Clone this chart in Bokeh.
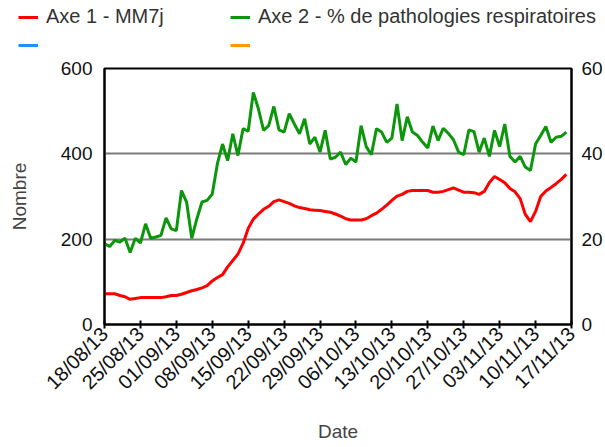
import math
import pandas as pd
from bokeh.plotting import figure
from bokeh.layouts import column
from bokeh.models import (Range1d, LinearAxis, FixedTicker, DatetimeTickFormatter,
                          Legend, LegendItem, ColumnDataSource)
from bokeh.embed import file_html
from bokeh.resources import INLINE

# ---------------- data ----------------
start_date = "2013-08-18"
mm7j = [72, 72, 72, 68, 65, 59, 61, 63, 63, 63,
        63, 63, 65, 68, 68, 71, 75, 79, 82, 86,
        91, 102, 110, 117, 135, 150, 165, 190, 225, 247,
        259, 270, 277, 288, 292, 288, 284, 278, 274, 272,
        269, 268, 267, 265, 263, 259, 254, 248, 245, 245,
        245, 248, 255, 261, 270, 280, 291, 301, 305, 312,
        314, 314, 314, 314, 310, 310, 312, 316, 320, 315,
        310, 310, 309, 305, 312, 333, 347, 340, 332, 319,
        311, 295, 258, 241, 265, 300, 313, 321, 330, 340,
        352]
pct_resp = [18.9, 18.3, 19.7, 19.3, 20.2, 16.9, 20.2, 19.1, 23.6, 20.2,
            20.5, 20.9, 25.0, 22.4, 22.0, 31.4, 28.7, 20.2, 24.8, 28.7,
            29.1, 30.6, 37.7, 42.3, 38.4, 44.7, 39.6, 45.9, 45.3, 54.4,
            50.5, 45.5, 46.6, 51.1, 45.6, 45.1, 49.4, 47.0, 44.7, 48.2,
            42.3, 43.9, 40.4, 45.5, 38.8, 39.2, 40.4, 37.5, 39.0, 38.1,
            46.6, 41.7, 39.8, 45.9, 45.1, 42.7, 43.7, 51.7, 43.1, 48.7,
            45.1, 44.3, 42.7, 41.4, 46.5, 43.1, 46.0, 44.8, 43.3, 40.4,
            39.8, 45.6, 45.2, 40.4, 43.7, 39.4, 45.5, 41.7, 47.0, 39.4,
            38.1, 39.4, 36.9, 36.1, 42.3, 44.3, 46.4, 42.7, 43.9, 44.1,
            45.1]
tick_labels = ["18/08/13", "25/08/13", "01/09/13", "08/09/13", "15/09/13",
               "22/09/13", "29/09/13", "06/10/13", "13/10/13", "20/10/13",
               "27/10/13", "03/11/13", "10/11/13", "17/11/13"]
left_ticks = [0, 200, 400, 600]
right_ticks = [0, 20, 40, 60]
legend_labels = ["Axe 1 - MM7j", "Axe 2 - % de pathologies respiratoires", " ", " "]
series_colors = ["#ff0000", "#0c960c", "#1e90ff", "#ff9900"]

# ---------------- build ----------------
FONT = "Liberation Sans"
dates = pd.date_range(start_date, periods=len(mm7j), freq="D")
tick_ms = [pd.Timestamp(pd.to_datetime(t, format="%d/%m/%y")).timestamp() * 1000 for t in tick_labels]

src = ColumnDataSource(dict(date=dates, mm7j=mm7j, pct=pct_resp))

LEG_H = 56
p = figure(width=605, height=447 - LEG_H, x_axis_type="datetime",
           x_range=Range1d(tick_ms[0], tick_ms[-1]),
           y_range=Range1d(left_ticks[0], left_ticks[-1]),
           output_backend="svg", toolbar_location=None,
           min_border_left=104, min_border_right=33, min_border_top=68 - LEG_H,
           min_border_bottom=123)
p.frame_align = False
p.extra_y_ranges = {"pct": Range1d(right_ticks[0], right_ticks[-1])}

p.background_fill_color = "white"
p.border_fill_color = "white"
p.outline_line_color = "black"
p.outline_line_width = 2

p.xgrid.grid_line_color = None
p.ygrid.ticker = FixedTicker(ticks=left_ticks[1:-1])
p.ygrid.grid_line_color = "#7a7a7a"
p.ygrid.grid_line_width = 2

# x axis
xa = p.xaxis[0]
xa.ticker = FixedTicker(ticks=tick_ms)
fmt = "%d/%m/%y"
xa.formatter = DatetimeTickFormatter(microseconds=fmt, milliseconds=fmt, seconds=fmt, minsec=fmt,
                                     minutes=fmt, hourmin=fmt, hours=fmt, days=fmt,
                                     months=fmt, years=fmt)
xa.major_label_orientation = math.pi / 4
xa.major_tick_in = 4
xa.major_tick_out = 4
xa.major_tick_line_width = 2
xa.major_tick_line_color = "black"
xa.minor_tick_line_color = None
xa.axis_line_color = "black"
xa.axis_line_width = 2
xa.major_label_text_font = FONT
xa.major_label_text_font_size = "20px"
xa.major_label_text_color = "#111111"
xa.major_label_standoff = 2
xa.axis_label = "Date"
xa.axis_label_text_font = FONT
xa.axis_label_text_font_size = "19px"
xa.axis_label_text_font_style = "normal"
xa.axis_label_text_color = "#444444"
xa.axis_label_standoff = 17

# left axis
ya = p.yaxis[0]
ya.ticker = FixedTicker(ticks=left_ticks)
ya.major_tick_in = 0
ya.major_tick_out = 0
ya.minor_tick_line_color = None
ya.axis_line_color = "black"
ya.axis_line_width = 2
ya.major_label_standoff = 12
ya.major_label_text_font = FONT
ya.major_label_text_font_size = "19px"
ya.major_label_text_color = "#111111"
ya.axis_label = "Nombre"
ya.axis_label_text_font = FONT
ya.axis_label_text_font_size = "19px"
ya.axis_label_text_font_style = "normal"
ya.axis_label_text_color = "#444444"
ya.axis_label_standoff = 28

# right axis
ra = LinearAxis(y_range_name="pct", ticker=FixedTicker(ticks=right_ticks))
ra.major_tick_in = 0
ra.major_tick_out = 0
ra.minor_tick_line_color = None
ra.axis_line_color = "black"
ra.axis_line_width = 2
ra.major_label_standoff = 10
ra.major_label_text_font = FONT
ra.major_label_text_font_size = "19px"
ra.major_label_text_color = "#111111"
p.add_layout(ra, "right")

# series
p.line(x="date", y="mm7j", source=src, line_color=series_colors[0], line_width=3)
p.line(x="date", y="pct", source=src, y_range_name="pct", line_color=series_colors[1], line_width=3)

# ---------------- legend strip (separate canvas above the chart) ----------------
# legend proxies share the chart's source; the strip's view range keeps them out of sight
lf = figure(width=605, height=LEG_H, output_backend="svg", toolbar_location=None,
            x_axis_location=None, y_axis_location=None,
            x_range=Range1d(0, 1), y_range=Range1d(-2, -1),
            min_border=0, min_border_left=0, min_border_right=0,
            min_border_top=0, min_border_bottom=0)
lf.frame_align = False
lf.outline_line_color = None
lf.xgrid.grid_line_color = None
lf.ygrid.grid_line_color = None
lf.background_fill_color = "white"
lf.border_fill_color = "white"

leg_r = [lf.line(x="date", y="mm7j", source=src, line_color=c, line_width=3)
         for c in series_colors]

def make_legend(items, loc):
    return Legend(items=items, orientation="horizontal", location=loc,
                  spacing=0, padding=0, margin=0, glyph_width=20, glyph_height=20,
                  label_standoff=8, label_width=184, label_height=20,
                  label_text_font=FONT, label_text_font_size="20px",
                  label_text_color="#333333",
                  border_line_color=None, background_fill_alpha=0)

leg1 = make_legend([LegendItem(label=legend_labels[0], renderers=[leg_r[0]]),
                    LegendItem(label=legend_labels[1], renderers=[leg_r[1]])], (18, 28))
leg2 = make_legend([LegendItem(label=legend_labels[2], renderers=[leg_r[2]]),
                    LegendItem(label=legend_labels[3], renderers=[leg_r[3]])], (18, 1))
lf.add_layout(leg1, "center")
lf.add_layout(leg2, "center")

layout = column(lf, p, spacing=0)
open("out.html", "w").write(file_html(layout, INLINE))
